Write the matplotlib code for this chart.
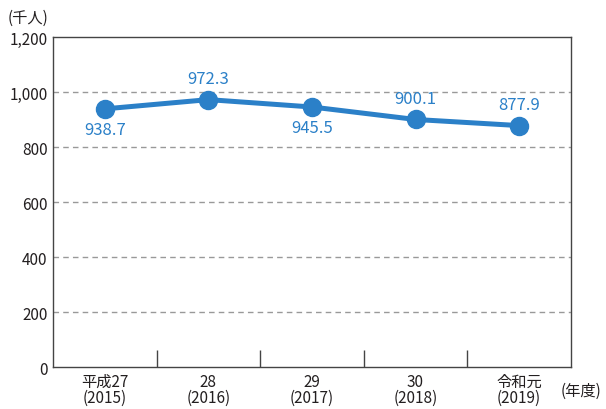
import matplotlib.pyplot as plt
import numpy as np

plt.rcParams['font.family'] = ['Noto Sans CJK JP', 'DejaVu Sans']

years = ['平成27\n(2015)', '28\n(2016)', '29\n(2017)', '30\n(2018)', '令和元\n(2019)']
values = [938.7, 972.3, 945.5, 900.1, 877.9]
label_side = ['below', 'above', 'below', 'above', 'above']
yticks = [0, 200, 400, 600, 800, 1000, 1200]

blue = '#2b80c8'
text_col = '#231f20'

fig = plt.figure(figsize=(6.06, 4.10), dpi=100)
ax = fig.add_axes([0.0875, 0.1024, 0.8545, 0.8049])

x = np.arange(len(values))
ax.plot(x, values, color=blue, lw=3.6, marker='o', ms=13, zorder=3, solid_capstyle='round')

for xi, v, side in zip(x, values, label_side):
    dy = -14.5 if side == 'below' else 15
    ax.annotate(f'{v:.1f}', (xi, v), xytext=(0, dy), textcoords='offset points',
                ha='center', va='center', color=blue, fontsize=12)

ax.set_xlim(-0.5, len(values) - 0.5)
ax.set_ylim(0, 1200)
ax.set_yticks(yticks)
ax.set_yticklabels([f'{t:,}' for t in yticks], fontsize=11, color=text_col)

for t in yticks[1:-1]:
    ax.axhline(t, color='#999999', lw=1, ls=(0, (4, 3)), zorder=1)

# category separators rise from the baseline
ax.set_xticks(x[:-1] + 0.5, minor=True)
ax.tick_params(axis='x', which='minor', direction='in', length=12, width=1, color='#444444')
ax.set_xticks(x)
ax.set_xticklabels(years, fontsize=11, color=text_col, linespacing=0.95)
ax.tick_params(axis='x', which='major', length=0, pad=4)
ax.tick_params(axis='y', length=0, pad=4)

for s in ax.spines.values():
    s.set_color('#444444')
    s.set_linewidth(1)

fig.text(0.012, 0.955, '(千人)', fontsize=11, color=text_col, ha='left', va='center')
fig.text(0.925, 0.045, '(年度)', fontsize=11, color=text_col, ha='left', va='center')

fig.savefig('out.png', dpi=100)
